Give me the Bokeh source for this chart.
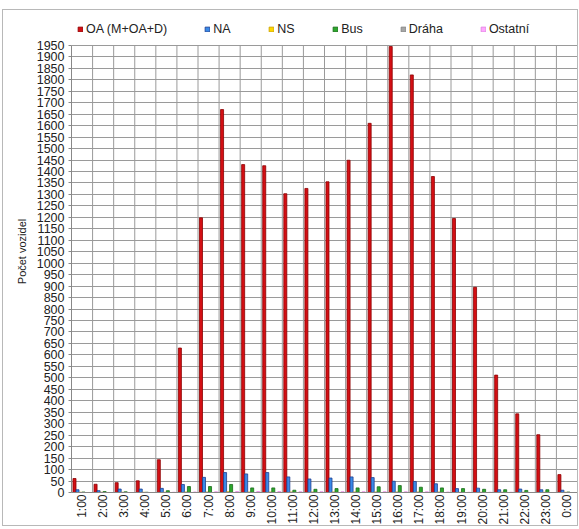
from bokeh.plotting import figure
from bokeh.models import ColumnDataSource, FixedTicker, Legend, LegendItem
from bokeh.embed import file_html
from bokeh.resources import INLINE

hours = ["1:00", "2:00", "3:00", "4:00", "5:00", "6:00", "7:00", "8:00", "9:00", "10:00",
         "11:00", "12:00", "13:00", "14:00", "15:00", "16:00", "17:00", "18:00", "19:00",
         "20:00", "21:00", "22:00", "23:00", "0:00"]
oa = [61, 36, 43, 51, 143, 630, 1198, 1670, 1430, 1425, 1303, 1326, 1355, 1449, 1610,
      1945, 1821, 1378, 1195, 895, 512, 343, 252, 78]
na = [12, 8, 15, 15, 18, 35, 66, 87, 81, 87, 68, 59, 63, 68, 65, 49, 48, 38, 17, 19, 12, 15, 12, 10]
ns = [1, 1, 1, 1, 1, 2, 2, 3, 2, 2, 2, 2, 2, 2, 2, 2, 2, 2, 1, 1, 1, 1, 1, 1]
bus = [2, 4, 3, 1, 8, 26, 26, 35, 20, 20, 10, 14, 17, 20, 25, 30, 23, 20, 17, 14, 12, 9, 12, 2]
draha = [0] * 24
ostatni = [0, 0, 0, 0, 1, 2, 3, 4, 4, 4, 3, 3, 3, 3, 3, 3, 3, 2, 1, 1, 1, 0, 0, 0]
y_ticks = list(range(0, 2000, 50))

series_names = ["OA (M+OA+D)", "NA", "NS", "Bus", "Dráha", "Ostatní"]
series_vals = [oa, na, ns, bus, draha, ostatni]
fills = ["#D40F14", "#3A8AE8", "#FFD700", "#2DA82D", "#A6A6A6", "#FFA8FF"]
lines = ["#8B0000", "#1F3F8F", "#C8A000", "#1A6A1A", "#808080", "#E080E0"]

n = len(hours)
ymax = y_ticks[-1]
H, BOT, TOPGAP = 517, 33, 35
frame_h = H - BOT
y_end = ymax * frame_h / (frame_h - TOPGAP)

bw = 0.143
p = figure(width=576, height=H, x_range=(0, n), y_range=(0, y_end),
           output_backend="svg", toolbar_location=None,
           min_border_left=68, min_border_right=2, min_border_top=0, min_border_bottom=BOT,
           styles={"margin-top": "9px", "margin-left": "2px", "border": "1px solid #B8B8B8"})

# vertical category-boundary grid lines (only up to the top tick)
p.segment(x0=list(range(n + 1)), y0=[0] * (n + 1), x1=list(range(n + 1)), y1=[ymax] * (n + 1),
          line_color="#9A9A9A", line_width=1)

items = []
for k, (name, vals) in enumerate(zip(series_names, series_vals)):
    xs = [i + 0.07 + bw * (k + 0.5) for i in range(n)]
    src = ColumnDataSource(dict(x=xs, top=vals))
    r = p.vbar(x="x", top="top", width=bw, bottom=0, source=src,
               fill_color=fills[k], line_color=lines[k], line_width=0.8)
    items.append(LegendItem(label=name, renderers=[r]))

# axes / ticks
p.xaxis.ticker = FixedTicker(ticks=[i + 0.5 for i in range(n)])
p.xaxis.major_label_overrides = {i + 0.5: h for i, h in enumerate(hours)}
p.xaxis.major_label_orientation = 1.5708
p.xaxis.major_tick_line_color = None
p.xaxis.major_tick_out = 0
p.xaxis.major_tick_in = 0
p.xaxis.minor_tick_line_color = None
p.xaxis.major_label_standoff = 2
p.xaxis.major_label_text_font = "Liberation Sans"
p.xaxis.major_label_text_font_size = "12px"
p.xaxis.major_label_text_color = "#222222"
p.xaxis.axis_line_color = "#888888"

p.yaxis.ticker = FixedTicker(ticks=y_ticks)
p.yaxis.bounds = (0, ymax)
p.yaxis.major_label_text_font = "Liberation Sans"
p.yaxis.major_label_text_font_size = "12.5px"
p.yaxis.major_label_text_color = "#222222"
p.yaxis.major_label_standoff = 4
p.yaxis.major_tick_out = 3
p.yaxis.major_tick_in = 0
p.yaxis.minor_tick_line_color = None
p.yaxis.major_tick_line_color = "#888888"
p.yaxis.axis_line_color = "#888888"
p.yaxis.axis_label = "Počet vozidel"
p.yaxis.axis_label_text_font = "Liberation Sans"
p.yaxis.axis_label_text_font_size = "11px"
p.yaxis.axis_label_text_font_style = "normal"
p.yaxis.axis_label_text_color = "#222222"
p.yaxis.axis_label_standoff = 6

p.xgrid.grid_line_color = None
p.ygrid.ticker = FixedTicker(ticks=y_ticks)
p.ygrid.grid_line_color = "#9A9A9A"
p.ygrid.grid_line_width = 1
p.outline_line_color = None
p.background_fill_color = "white"
p.border_fill_color = "white"

legend = Legend(items=items, orientation="horizontal", location=(6, frame_h - 28),
                glyph_width=6, glyph_height=6, label_standoff=3, label_width=18,
                spacing=37, padding=0, margin=0, border_line_color=None,
                label_text_font="Liberation Sans", label_text_font_size="12.5px",
                label_text_color="#222222", label_height=14, background_fill_alpha=0)
p.add_layout(legend)

open("out.html", "w").write(file_html(p, INLINE))
